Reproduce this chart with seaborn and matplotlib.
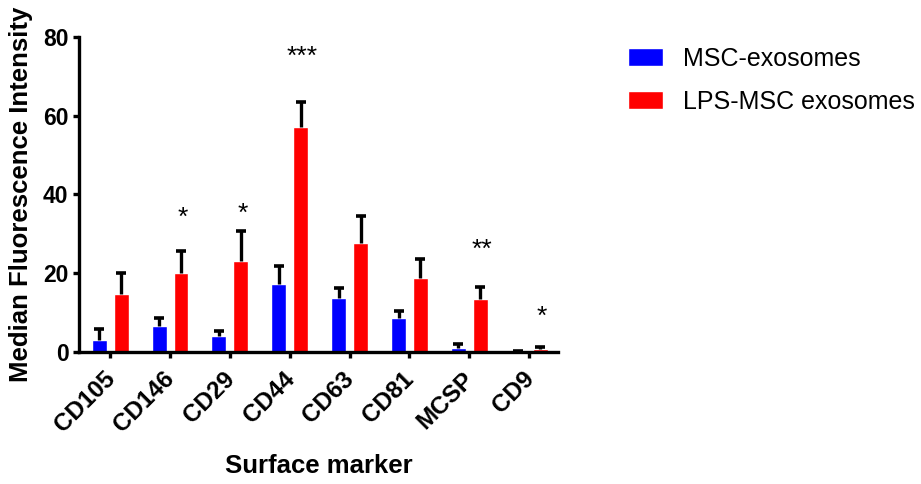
import numpy as np
import pandas as pd
import matplotlib
matplotlib.use("Agg")
import matplotlib.pyplot as plt
import matplotlib.transforms as mtransforms
import seaborn as sns

markers = ["CD105", "CD146", "CD29", "CD44", "CD63", "CD81", "MCSP", "CD9"]
groups = ["MSC-exosomes", "LPS-MSC exosomes"]
msc_mean = [3.0, 6.5, 4.1, 17.3, 13.8, 8.7, 1.0, 0.2]
msc_err = [2.9, 2.0, 1.1, 4.6, 2.4, 1.7, 0.9, 0.1]
lps_mean = [14.8, 20.0, 23.0, 57.0, 27.6, 18.7, 13.3, 0.7]
lps_err = [5.2, 5.7, 7.8, 6.5, 6.8, 4.9, 3.2, 0.5]
sig_labels = ["", "*", "*", "***", "", "", "**", "*"]
sig_y = [0, 34, 35, 75, 0, 0, 25.8, 8.9]
colors = ["#0000FF", "#FF0000"]

df = pd.DataFrame({
    "marker": markers * 2,
    "group": [groups[0]] * len(markers) + [groups[1]] * len(markers),
    "value": msc_mean + lps_mean,
})

sns.set_style("ticks")
plt.rcParams["font.family"] = ["Liberation Sans", "DejaVu Sans"]
plt.rcParams["text.color"] = "black"
plt.rcParams["axes.labelcolor"] = "black"
plt.rcParams["xtick.color"] = "black"
plt.rcParams["ytick.color"] = "black"
plt.rcParams["axes.edgecolor"] = "black"

fig = plt.figure(figsize=(9.21, 4.84), dpi=100)
ax = fig.add_axes([0.0858, 0.273, 0.520, 0.651])

sns.barplot(data=df, x="marker", y="value", hue="group", order=markers,
            hue_order=groups, palette=colors, errorbar=None,
            width=0.733, gap=0.32, saturation=1, ax=ax, legend=True)

errs = [msc_err, lps_err]
means = [msc_mean, lps_mean]
for k, cont in enumerate(ax.containers):
    xs = [p.get_x() + p.get_width() / 2 for p in cont.patches]
    tops = np.array(means[k]) + np.array(errs[k])
    ax.vlines(xs, means[k], tops, color="black", lw=2.4, zorder=3)
    ax.plot(xs, tops, ls="none", marker="_", ms=7, mew=2.6, color="black", zorder=3)
    if k == 1:
        for x, lab, yy in zip(xs, sig_labels, sig_y):
            if lab:
                ax.text(x + 0.03, yy, lab, ha="center", va="center", fontsize=19, color="black")

ax.set_ylim(0, 80)
ax.set_xlim(-0.52, 7.48)
ax.set_yticks([0, 20, 40, 60, 80])
ax.set_ylabel("Median Fluorescence Intensity", fontsize=18.5, fontweight="bold")
ax.yaxis.set_label_coords(-0.096, 0.5)
ax.set_xlabel("Surface marker", fontsize=18.5, fontweight="bold", labelpad=12)
ax.tick_params(axis="both", width=2.4, length=4.5, pad=3)
ax.tick_params(axis="y", labelsize=16.5)
ax.tick_params(axis="x", labelsize=17.5)
for lab in ax.get_yticklabels():
    lab.set_fontweight("bold")
offset = mtransforms.ScaledTranslation(-7 / 100, -5 / 100, fig.dpi_scale_trans)
for lab in ax.get_xticklabels():
    lab.set_fontweight("bold")
    lab.set_rotation(45)
    lab.set_ha("right")
    lab.set_rotation_mode("anchor")
    lab.set_transform(lab.get_transform() + offset)
for s in ["top", "right"]:
    ax.spines[s].set_visible(False)
for s in ["left", "bottom"]:
    ax.spines[s].set_linewidth(2.4)

leg = ax.legend(loc="upper left", bbox_to_anchor=(1.125, 1.0), frameon=False,
                fontsize=18, handlelength=1.4, handleheight=0.7,
                handletextpad=0.8, labelspacing=0.75, borderaxespad=0)

fig.savefig("out.png", dpi=100)
